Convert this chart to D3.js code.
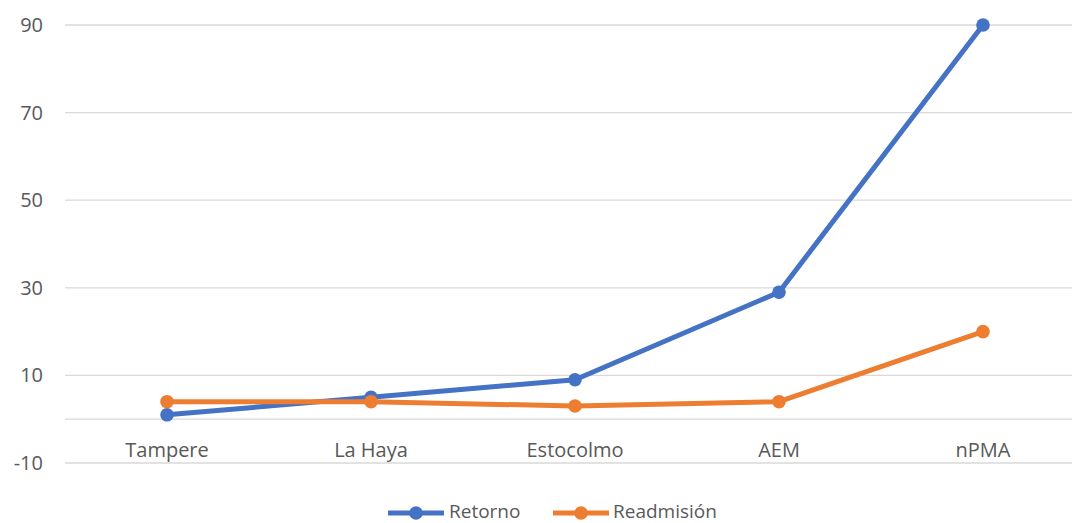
<!DOCTYPE html>
<html>
<head>
<meta charset="utf-8">
<script src="https://cdn.jsdelivr.net/npm/d3@7"></script>
<style>
  html, body { margin: 0; padding: 0; background: #fff; }
  svg { display: block; }
  text { font-family: "Open Sans", "Noto Sans", sans-serif; fill: #595959; }
</style>
</head>
<body>
<svg id="chart" width="1072" height="523"></svg>
<script>
// Categories and series
const categories = ["Tampere", "La Haya", "Estocolmo", "AEM", "nPMA"];
const retorno = [1, 5, 9, 29, 90];
const readmision = [4, 4, 3, 4, 20];
const seriesNames = ["Retorno", "Readmisión"];
const seriesColors = ["#4472C4", "#ED7D31"];
const yTicks = [-10, 10, 30, 50, 70, 90];

const series = [
  { name: seriesNames[0], values: retorno, color: seriesColors[0] },
  { name: seriesNames[1], values: readmision, color: seriesColors[1] }
];

const W = 1072, H = 523;
const plot = { left: 65, right: 1085, top: 25, bottom: 463 };
const fontSize = 20;

const svg = d3.select("#chart");

const x = d3.scaleBand().domain(categories).range([plot.left, plot.right]);
const y = d3.scaleLinear().domain([-10, 90]).range([plot.bottom, plot.top]);

// Horizontal gridlines
svg.append("g")
  .selectAll("line")
  .data(yTicks)
  .join("line")
  .attr("x1", plot.left).attr("x2", W)
  .attr("y1", d => y(d)).attr("y2", d => y(d))
  .attr("stroke", "#d9d9d9").attr("stroke-width", 1.3);

// Category axis line at zero
svg.append("line")
  .attr("x1", plot.left).attr("x2", W)
  .attr("y1", y(0)).attr("y2", y(0))
  .attr("stroke", "#d9d9d9").attr("stroke-width", 1.3);

// Value axis labels (plain hyphen for negatives)
const yAxis = d3.axisLeft(y).tickValues(yTicks).tickSize(0).tickPadding(0)
  .tickFormat(d => String(d));
const gy = svg.append("g").attr("transform", "translate(43,0)").call(yAxis);
gy.select(".domain").remove();
gy.selectAll("text")
  .attr("font-size", fontSize).attr("fill", "#595959")
  .style("font-family", '"Open Sans", sans-serif');

// Category labels
const xAxis = d3.axisBottom(x).tickSize(0).tickPadding(0);
const gx = svg.append("g").attr("transform", "translate(0,457)").call(xAxis);
gx.select(".domain").remove();
gx.selectAll("text")
  .attr("dy", 0)
  .attr("font-size", fontSize).attr("fill", "#595959")
  .style("font-family", '"Open Sans", sans-serif');

// Lines and markers
const line = d3.line()
  .x((d, i) => x(categories[i]) + x.bandwidth() / 2)
  .y(d => y(d));

const sg = svg.append("g").selectAll("g").data(series).join("g");
sg.append("path")
  .attr("d", d => line(d.values))
  .attr("fill", "none")
  .attr("stroke", d => d.color)
  .attr("stroke-width", 5)
  .attr("stroke-linejoin", "round");
sg.selectAll("circle")
  .data(d => d.values.map((v, i) => ({ v, i, color: d.color })))
  .join("circle")
  .attr("cx", d => x(categories[d.i]) + x.bandwidth() / 2)
  .attr("cy", d => y(d.v))
  .attr("r", 6.8)
  .attr("fill", d => d.color);

// Legend
const legendItems = [
  { name: seriesNames[0], color: seriesColors[0], x0: 388, tx: 449 },
  { name: seriesNames[1], color: seriesColors[1], x0: 553, tx: 613 }
];
const lg = svg.append("g").selectAll("g").data(legendItems).join("g")
  .attr("transform", d => `translate(${d.x0},513)`);
lg.append("line")
  .attr("x1", 0).attr("x2", 56).attr("y1", 0).attr("y2", 0)
  .attr("stroke", d => d.color).attr("stroke-width", 5);
lg.append("circle").attr("cx", 28).attr("cy", 0).attr("r", 6.8)
  .attr("fill", d => d.color);
lg.append("text")
  .attr("x", d => d.tx - d.x0).attr("y", 5)
  .attr("font-size", 19)
  .text(d => d.name);
</script>
</body>
</html>
